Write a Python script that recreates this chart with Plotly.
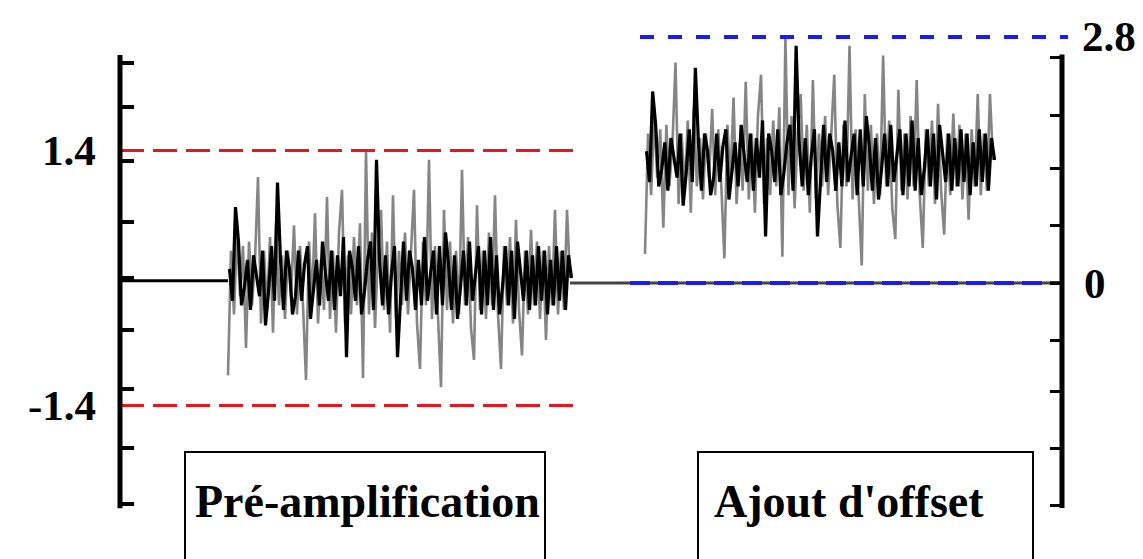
import numpy as np
import plotly.graph_objects as go

# --- données -------------------------------------------------------------
# bruit échantillonné (composante large, tracée en gris)
bruit_gris = [
    -1.07, 0.30, -0.40, 0.50, -0.20, 0.35, -0.77, 0.40, -0.30, 0.20,
    1.11, -0.50, 0.30, -0.35, 0.45, -0.60, 0.60, -0.30, 0.25, -0.45,
    0.30, -0.20, 0.58, -0.40, 0.35, -0.30, -1.12, 0.40, -0.25, 0.71,
    -0.50, 0.20, -0.35, 0.89, -0.45, 0.30, -0.60, 0.50, 0.97, -0.50,
    0.25, -0.40, 0.45, -0.30, 0.60, -1.10, 1.40, -0.40, 0.50, -0.55,
    0.30, 0.75, -0.35, 0.40, -0.60, 0.91, -0.45, 0.30, -0.30, 0.50,
    -0.40, 0.35, 0.97, -0.50, -1.00, 0.40, -0.30, 1.30, -0.45, 0.35,
    -0.50, -1.20, 0.75, -0.35, 0.40, -0.50, 0.30, -0.40, 1.19, -0.30,
    0.45, -0.55, -0.90, 0.80, -0.35, 0.30, -0.45, 0.50, -0.30, 0.91,
    -0.40, -1.00, 0.35, -0.30, 0.45, -0.50, 0.64, -0.35, -0.85, 0.30,
    -0.40, 0.53, -0.30, 0.40, -0.45, 0.30, -0.68, 0.35, -0.30, 0.75,
    -0.40, 0.30, -0.35, 0.75, 0.00,
]
# composante resserrée (tracée en noir)
bruit_noir = [
    0.10, -0.25, 0.78, 0.40, -0.30, -0.10, 0.20, -0.35, 0.25, 0.05,
    -0.20, 0.30, -0.52, -0.15, 0.35, -0.25, 1.05, 0.20, -0.35, 0.30,
    0.10, -0.40, -0.20, 0.30, -0.25, 0.15, 0.35, -0.45, -0.10, 0.20,
    -0.30, 0.40, 0.05, -0.25, 0.30, -0.35, 0.25, -0.20, 0.45, -0.87,
    0.30, 0.10, -0.25, 0.35, -0.40, -0.15, 0.20, 0.40, -0.35, 1.30,
    0.20, -0.30, 0.25, -0.40, 0.05, 0.35, -0.87, -0.20, 0.40, -0.25,
    0.30, 0.10, -0.35, 0.20, -0.30, 0.45, -0.25, 0.05, 0.30, -0.40,
    0.35, -0.30, 0.50, 0.15, -0.35, 0.25, -0.45, -0.10, 0.30, -0.30,
    0.40, -0.25, 0.05, 0.35, -0.40, 0.30, -0.30, 0.45, -0.35, 0.25,
    -0.40, -0.10, 0.35, -0.30, 0.30, -0.45, 0.40, 0.10, -0.25, 0.30,
    -0.35, 0.25, -0.30, 0.35, -0.25, 0.30, -0.40, 0.20, -0.30, 0.35,
    -0.25, 0.30, -0.35, 0.25, 0.00,
]
seuil = 1.4            # niveau crête après pré-amplification
offset = 1.4           # décalage ajouté
pleine_echelle = 2.8   # niveau maximal après ajout d'offset

# instants (unités arbitraires)
t_axe_g, t_axe_d = 0.0, 9.40
t_deb_g, t_fin_g = 1.06, 4.48
t_deb_d, t_fin_d = 5.23, 8.71

# graduations des deux axes
ticks_g = [2.36, 1.88, 1.29, 0.62, 0.0, -0.57, -1.22, -1.87, -2.48]
ticks_d = [2.57, 1.91, 1.30, 0.66, 0.0, -0.65, -1.24, -1.88, -2.53]
etendue_g = (-2.53, 2.45)
etendue_d = (-2.56, 2.60)

titres = ["Pré-amplification", "Ajout d'offset"]

# --- construction ---------------------------------------------------------
n = len(bruit_gris)
tg = np.linspace(t_deb_g, t_fin_g, n)
td = np.linspace(t_deb_d, t_fin_d, n)
dt_g = (t_fin_g - t_deb_g) / (n - 1)
dt_d = (t_fin_d - t_deb_d) / (n - 1)
g = np.array(bruit_gris)
k = np.array(bruit_noir)

fig = go.Figure()

# ligne de repos avant le signal
fig.add_trace(go.Scatter(x=[t_axe_g, t_deb_g], y=[-0.03, -0.03], mode="lines",
                         line=dict(color="black", width=3), yaxis="y"))
# signal pré-amplifié
fig.add_trace(go.Scatter(x=tg, y=g, mode="lines",
                         line=dict(color="#858585", width=2.6), yaxis="y"))
fig.add_trace(go.Scatter(x=tg + dt_g / 2, y=k, mode="lines",
                         line=dict(color="black", width=3.2), yaxis="y"))
# ligne de repos entre les deux signaux
fig.add_trace(go.Scatter(x=[t_fin_g, t_axe_d], y=[0, 0], mode="lines",
                         line=dict(color="#444444", width=3), yaxis="y2"))
# signal après ajout d'offset
fig.add_trace(go.Scatter(x=td, y=g + offset, mode="lines",
                         line=dict(color="#858585", width=2.6), yaxis="y2"))
fig.add_trace(go.Scatter(x=td + dt_d / 2, y=k + offset, mode="lines",
                         line=dict(color="black", width=3.2), yaxis="y2"))

# seuils en pointillés
for v in (seuil, -seuil):
    fig.add_trace(go.Scatter(x=[-0.02, 4.56], y=[v, v], mode="lines",
                             line=dict(color="#e8161e", width=3, dash="24px,9px"),
                             yaxis="y"))
fig.add_trace(go.Scatter(x=[5.18, 9.46], y=[pleine_echelle] * 2, mode="lines",
                         line=dict(color="#1c1cf0", width=4, dash="14px,14px"),
                         yaxis="y2"))
fig.add_trace(go.Scatter(x=[5.08, 9.42], y=[0, 0], mode="lines",
                         line=dict(color="#1c1cf0", width=4, dash="20px,8px"),
                         yaxis="y2"))

# axes verticaux tracés comme segments épais
fig.add_shape(type="line", xref="x", yref="y", x0=t_axe_g - 0.02, x1=t_axe_g - 0.02,
              y0=etendue_g[0], y1=etendue_g[1], line=dict(color="black", width=5))
fig.add_shape(type="line", xref="x", yref="y2", x0=t_axe_d, x1=t_axe_d,
              y0=etendue_d[0], y1=etendue_d[1], line=dict(color="black", width=5))

# étiquettes des niveaux
police = dict(family="Liberation Serif", size=43, color="black", weight="bold")
fig.add_annotation(x=-0.24, y=seuil, xref="x", yref="y", text="1.4",
                   showarrow=False, xanchor="right", yanchor="middle", font=police)
fig.add_annotation(x=-0.24, y=-seuil, xref="x", yref="y", text="-1.4",
                   showarrow=False, xanchor="right", yanchor="middle", font=police)
fig.add_annotation(x=9.58, y=pleine_echelle, xref="x", yref="y2", text="2.8",
                   showarrow=False, xanchor="left", yanchor="middle", font=police)
fig.add_annotation(x=9.60, y=0, xref="x", yref="y2", text="0",
                   showarrow=False, xanchor="left", yanchor="middle", font=police)

# cadres des légendes
cadres = [(0.63, 4.23), (5.76, 9.11)]
centres_texte = [2.45, 7.27]
for (x0, x1), xc, titre in zip(cadres, centres_texte, titres):
    fig.add_shape(type="rect", xref="x", yref="paper", x0=x0, x1=x1,
                  y0=-0.05, y1=0.1914, line=dict(color="black", width=2),
                  fillcolor="white", layer="below")
    fig.add_annotation(x=xc, y=0.103, xref="x", yref="paper",
                       text=titre, showarrow=False, yanchor="middle",
                       font=dict(family="Liberation Serif", size=46,
                                 color="black", weight="bold"))

fig.update_layout(
    width=1143, height=559,
    margin=dict(l=0, r=0, t=0, b=0),
    paper_bgcolor="white", plot_bgcolor="white",
    showlegend=False,
    xaxis=dict(range=[-1.22, 10.21], visible=False),
    yaxis=dict(range=[-3.088, 3.055], anchor="free", position=0.1055,
               showline=False, showgrid=False, zeroline=False,
               ticks="inside", ticklen=12, tickwidth=4, tickcolor="black",
               tickvals=ticks_g, showticklabels=False),
    yaxis2=dict(range=[-3.141, 3.221], overlaying="y", side="right",
                anchor="free", position=0.929,
                showline=False, showgrid=False, zeroline=False,
                ticks="inside", ticklen=12, tickwidth=3, tickcolor="black",
                tickvals=ticks_d, showticklabels=False),
)

fig.write_html("out.html")
